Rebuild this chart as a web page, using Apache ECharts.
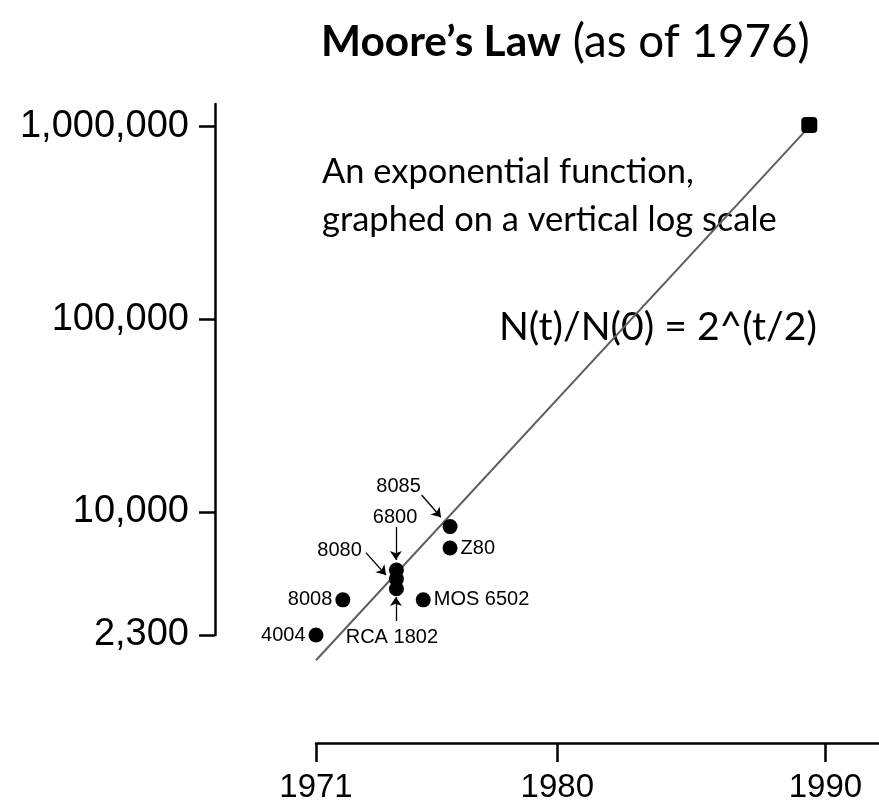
<!DOCTYPE html>
<html>
<head>
<meta charset="utf-8">
<script src="https://cdn.jsdelivr.net/npm/echarts@6/dist/echarts.min.js"></script>
<style>
html,body{margin:0;padding:0;background:#fff;}
#chart{width:879px;height:809px;}
</style>
</head>
<body>
<div id="chart"></div>
<script>
// ---- data ----
const chipYears       = [1971, 1972, 1974, 1974, 1974, 1975, 1976, 1976, 1989.4];
const chipTransistors = [2300, 3500, 5000, 4500, 4000, 3500, 6500, 8400, 1020000];
const chipNames       = ['4004', '8008', '6800', '8080', 'RCA 1802', 'MOS 6502', 'Z80', '8085', ''];

const trendYears  = [1971, 1989.4];
const trendValues = [1700, 1000000];

const calloutNames  = ['8085', '6800', '8080', 'RCA 1802'];
const calloutYears  = [1974.08, 1973.95, 1971.88, 1973.83];
const calloutValues = [13560, 9420, 6350, 2234];
const arrowFromYears  = [1974.94, 1973.98, 1972.86, 1973.98];
const arrowFromValues = [12250, 8360, 6150, 2720];
const arrowToYears    = [1975.66, 1973.98, 1973.61, 1973.98];
const arrowToValues   = [9390, 5640, 4710, 3620];

const xTicks = [1971, 1980, 1990];
const yTicks = [2300, 10000, 100000, 1000000];

const titleBold = 'Moore\u2019s Law';
const titleRest = ' (as of 1976)';
const noteLine1 = 'An exponential function,';
const noteLine2 = 'graphed on a vertical log scale';
const formula   = 'N(t)/N(0) = 2^(t/2)';

// ---- styling helpers ----
const CAL = "Lato, 'Open Sans', sans-serif";
const HEL = "'Liberation Sans', Arial, sans-serif";
const mctx = document.createElement('canvas').getContext('2d');
function widthAt100(text, weight) {
  mctx.font = (weight || 'normal') + ' 100px ' + CAL;
  return mctx.measureText(text).width;
}
const titleBase = 100 * 488 / (widthAt100(titleBold, 'bold') + widthAt100(titleRest));
const titleBoldSize = titleBase * 0.965;
const titleRestSize = titleBase * 1.04;
const noteSize = 100 * 455 / widthAt100(noteLine2);
const formulaSize = 100 * 318 / widthAt100(formula);

const labelSide = {'4004': 'left', '8008': 'left', 'MOS 6502': 'right', 'Z80': 'right'};

const chipData = chipYears.map((y, i) => {
  const name = chipNames[i];
  const item = {name: name, value: [y, chipTransistors[i]]};
  if (labelSide[name]) {
    item.label = {show: true, position: labelSide[name], distance: 3};
  }
  if (y > 1980) { item.symbol = 'roundRect'; item.symbolSize = 16; }
  return item;
});

const chart = echarts.init(document.getElementById('chart'), null, {renderer: 'canvas'});
chart.setOption({
  animation: false,
  backgroundColor: '#fff',
  title: {
    text: '{b|' + titleBold + '}{r|' + titleRest + '}',
    left: 316,
    top: 14,
    textStyle: {
      rich: {
        b: {fontFamily: CAL, fontWeight: 'bold', fontSize: titleBoldSize, color: '#000'},
        r: {fontFamily: CAL, fontWeight: 'normal', fontSize: titleRestSize, color: '#000'}
      }
    }
  },
  grid: {left: 316, right: 0, top: 104, bottom: 174, containLabel: false},
  xAxis: {
    type: 'value', min: 1971, max: 1992, offset: 108,
    axisLine: {show: true, lineStyle: {color: '#000', width: 2.5}},
    axisTick: {show: true, length: 19, customValues: xTicks, lineStyle: {color: '#000', width: 2.5}},
    axisLabel: {customValues: xTicks, formatter: v => String(v), margin: 28,
      fontFamily: HEL, fontSize: 33, color: '#000'},
    splitLine: {show: false}
  },
  yAxis: {
    type: 'log', logBase: 10, min: 2300, max: 1310000, offset: 101,
    axisLine: {show: true, lineStyle: {color: '#000', width: 2.5}},
    axisTick: {show: true, length: 16, customValues: yTicks, lineStyle: {color: '#000', width: 2.5}},
    axisLabel: {customValues: yTicks, formatter: v => Number(v).toLocaleString('en-US'), margin: 26,
      fontFamily: HEL, fontSize: 38, color: '#000'},
    splitLine: {show: false}
  },
  graphic: [
    {type: 'text', x: 322, y: 172, silent: true,
      style: {text: noteLine1, font: 'normal ' + noteSize + 'px ' + CAL, fill: '#000', align: 'left', verticalAlign: 'middle'}},
    {type: 'text', x: 322, y: 220, silent: true,
      style: {text: noteLine2, font: 'normal ' + noteSize + 'px ' + CAL, fill: '#000', align: 'left', verticalAlign: 'middle'}},
    {type: 'text', x: 499, y: 327, silent: true,
      style: {text: formula, font: 'normal ' + formulaSize + 'px ' + CAL, fill: '#000', align: 'left', verticalAlign: 'middle'}}
  ],
  series: [
    {
      type: 'line', name: 'trend', clip: false, silent: true, z: 1,
      symbol: 'none',
      lineStyle: {color: '#5e5e5e', width: 2},
      data: trendYears.map((y, i) => [y, trendValues[i]])
    },
    {
      type: 'scatter', name: 'chips', clip: false, silent: true, z: 3,
      symbol: 'circle', symbolSize: 15,
      itemStyle: {color: '#000', opacity: 1},
      label: {show: false, formatter: p => p.name, fontFamily: HEL, fontSize: 20, color: '#000'},
      data: chipData
    },
    {
      type: 'scatter', name: 'callouts', clip: false, silent: true, z: 4,
      symbolSize: 0,
      itemStyle: {color: '#000', opacity: 1},
      label: {show: true, position: 'inside', formatter: p => p.name, fontFamily: HEL, fontSize: 20, color: '#000'},
      data: calloutNames.map((n, i) => ({name: n, value: [calloutYears[i], calloutValues[i]]})),
      markLine: {
        silent: true, animation: false,
        symbol: ['none', 'arrow'], symbolSize: 9,
        label: {show: false},
        itemStyle: {color: '#000'},
        lineStyle: {color: '#000', width: 1.3, type: 'solid', opacity: 1},
        emphasis: {disabled: true},
        data: arrowFromYears.map((y, i) => [
          {coord: [y, arrowFromValues[i]]},
          {coord: [arrowToYears[i], arrowToValues[i]]}
        ])
      }
    }
  ]
});
</script>
</body>
</html>
